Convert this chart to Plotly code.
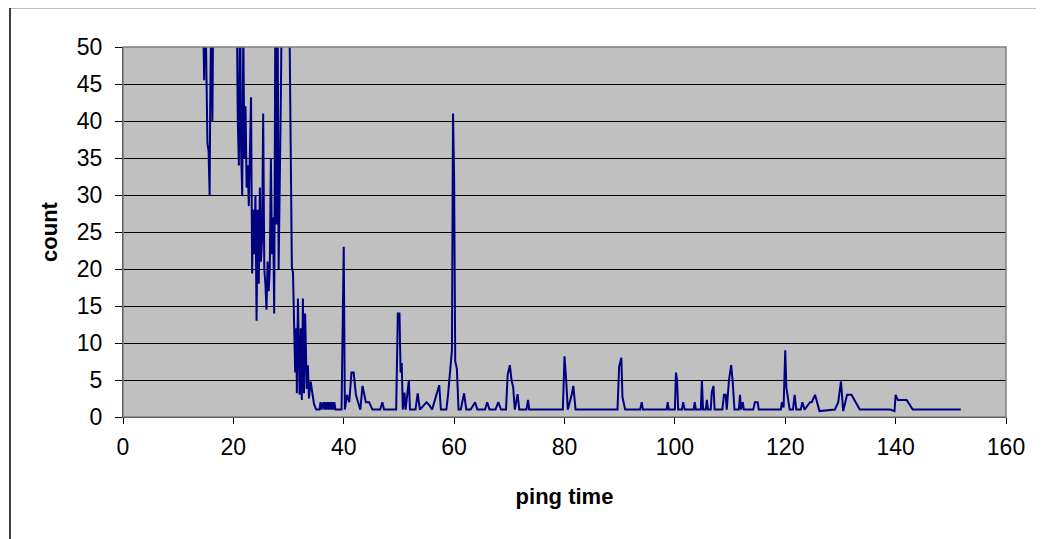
import plotly.graph_objects as go

# ping time (x) and count (y); values above 50 run off the top of the axis
ping_time = [
    14.4, 14.7, 14.9, 15.1, 15.3, 15.5, 15.7, 15.8, 16.0, 16.2, 16.4, 17.5, 19.0, 20.5,
    20.8, 21.0, 21.2, 21.4, 21.6, 21.8, 22.0, 22.2, 22.4, 22.6, 22.8, 23.0, 23.2, 23.4,
    23.6, 23.8, 24.0, 24.2, 24.4, 24.6, 24.8, 25.0, 25.2, 25.4, 25.6, 25.8, 26.0, 26.2,
    26.4, 26.6, 26.8, 27.0, 27.2, 27.4, 27.6, 27.8, 28.0, 28.2, 28.4, 28.6, 28.8, 29.2,
    30.0, 30.6, 30.8, 30.9, 31.1, 31.2, 31.4, 31.5, 31.7, 31.9, 32.0, 32.2, 32.4, 32.6,
    32.8, 33.0, 33.1, 33.3, 33.5, 33.7, 34.0, 34.3, 34.6, 35.0, 35.6, 35.8, 36.0, 36.3,
    36.5, 36.7, 36.9, 37.1, 37.3, 37.5, 37.7, 37.9, 38.1, 38.3, 38.5, 39.6, 39.8, 40.0,
    40.2, 40.6, 41.0, 41.4, 41.8, 42.2, 42.6, 43.0, 43.4, 43.6, 44.0, 44.6, 45.2, 46.6,
    47.0, 47.3, 49.5, 49.8, 50.1, 50.3, 50.5, 50.7, 51.0, 51.2, 51.8, 52.0, 53.0, 53.4,
    53.8, 55.0, 55.6, 56.0, 57.3, 57.6, 58.6, 58.9, 59.6, 59.8, 60.0, 60.2, 60.5, 60.8,
    61.2, 61.8, 62.2, 63.0, 63.8, 64.2, 65.6, 66.0, 66.4, 67.5, 68.0, 68.5, 69.4, 69.7,
    70.1, 70.4, 70.7, 71.0, 71.5, 71.8, 73.1, 73.4, 73.6, 79.7, 80.0, 80.3, 80.6, 81.3,
    81.6, 82.0, 89.6, 89.9, 90.3, 90.5, 91.0, 93.7, 94.0, 94.2, 98.5, 98.7, 98.9, 100.0,
    100.2, 100.4, 100.6, 101.3, 101.5, 101.8, 103.4, 103.6, 103.8, 104.7, 104.9, 105.1,
    105.6, 105.8, 106.0, 106.5, 106.7, 107.0, 107.2, 108.6, 108.9, 109.2, 109.4, 109.8,
    110.2, 110.5, 110.8, 111.6, 111.8, 112.0, 112.3, 112.5, 114.2, 114.5, 115.0, 115.2,
    119.2, 119.4, 119.7, 120.0, 120.2, 120.8, 121.4, 121.7, 122.0, 122.8, 123.1, 123.5,
    124.5, 124.8, 125.4, 126.2, 129.0, 129.6, 130.1, 130.5, 131.2, 132.0, 133.5, 139.0,
    139.8, 140.0, 140.4, 142.0, 143.1, 151.8,
]
count = [
    60, 45.5, 58, 46, 37, 36, 30, 42, 56, 40, 62, 75, 70, 65,
    40, 34, 58, 36, 30, 52, 35, 42, 31, 34, 28.5, 36, 43.2, 19.4,
    28, 22, 30, 13, 28, 18, 31, 21, 24, 41, 20, 18, 14.5, 21,
    17, 20, 35, 22, 27, 14, 55, 26, 60, 20, 37, 43, 58, 70,
    66, 20.3, 19.5, 15, 10, 6, 12, 3.2, 16, 7, 3, 12, 2.3, 16,
    3.2, 14, 8, 3.8, 7, 2.5, 4.8, 3.5, 1.8, 1, 1, 2, 1, 2,
    1, 2, 1, 2, 1, 2, 1, 2, 1, 2, 1, 1, 14, 23,
    1, 3, 2, 6, 6, 3, 2, 1, 4.2, 3.5, 2, 2, 1, 1,
    2, 1, 1, 14, 14, 6, 7.3, 1, 3.3, 1, 5, 1, 1, 3.2,
    1, 2, 1.5, 1, 4.3, 1, 1, 3, 9, 41, 32, 7.5, 6.5, 1,
    1, 3.2, 1, 1, 2, 1, 1, 2, 1, 1, 2, 1, 1, 5.7,
    7, 5, 4, 1, 3.1, 1, 1, 2.3, 1, 1, 8.2, 5, 1, 3,
    4.2, 1, 1, 6.8, 8, 2.7, 1, 1, 2, 1, 1, 2, 1, 1,
    6, 5, 1, 1, 2, 1, 1, 2, 1, 1, 5, 1,
    1, 2.3, 1, 1, 3.4, 4.2, 1, 1, 3, 3, 1, 5,
    7, 4.5, 1, 1, 3, 1, 2, 1, 1, 2, 2, 1,
    1, 2, 1.3, 9, 4, 1, 1, 3, 1, 1, 2, 1,
    2, 2, 3, 0.8, 1, 2, 4.8, 0.8, 3, 3, 1, 1,
    0.8, 3, 2.3, 2.3, 1, 1,
]

x_ticks = [0, 20, 40, 60, 80, 100, 120, 140, 160]
y_ticks = [0, 5, 10, 15, 20, 25, 30, 35, 40, 45, 50]

fig = go.Figure(
    go.Scatter(
        x=ping_time,
        y=count,
        mode="lines",
        line={"color": "#000080", "width": 2},
        showlegend=False,
    )
)

font = {"family": "Liberation Sans, Arial, sans-serif", "color": "#000000"}

fig.update_layout(
    width=1044,
    height=539,
    # page body adds 8px, so the plot area lands at 123..1006 x 47..417
    margin={"l": 115, "r": 46, "t": 39, "b": 130},
    paper_bgcolor="#ffffff",
    plot_bgcolor="#c0c0c0",
    font={**font, "size": 23},
    xaxis={
        "range": [0, 160],
        "tickvals": x_ticks,
        "showgrid": False,
        "zeroline": False,
        "showline": True,
        "linecolor": "#000000",
        "linewidth": 1,
        "ticks": "outside",
        "ticklen": 6,
        "tickcolor": "#000000",
        "ticklabelstandoff": 3,
        "title": {"text": "<b>ping time</b>", "font": {**font, "size": 22}, "standoff": 30},
    },
    yaxis={
        "range": [0, 50],
        "tickvals": y_ticks,
        "showgrid": True,
        "gridcolor": "#000000",
        "gridwidth": 1,
        "zeroline": False,
        "showline": True,
        "linecolor": "#000000",
        "linewidth": 1,
        "ticks": "outside",
        "ticklen": 7,
        "tickcolor": "#000000",
        "ticklabelstandoff": 8,
        "title": {"text": "<b>count</b>", "font": {**font, "size": 22}, "standoff": 13},
    },
    shapes=[
        # plot area border
        {"type": "rect", "xref": "paper", "yref": "paper", "x0": 0, "x1": 1, "y0": 0, "y1": 1,
         "line": {"color": "#808080", "width": 1.5}, "layer": "above"},
        # chart frame, running off the right and bottom of the page
        {"type": "rect", "xref": "paper", "yref": "paper", "x0": -0.128, "x1": 1.12,
         "y0": -0.4, "y1": 1.107, "line": {"color": "#000000", "width": 1.5}},
    ],
)

fig.write_html("out.html")
